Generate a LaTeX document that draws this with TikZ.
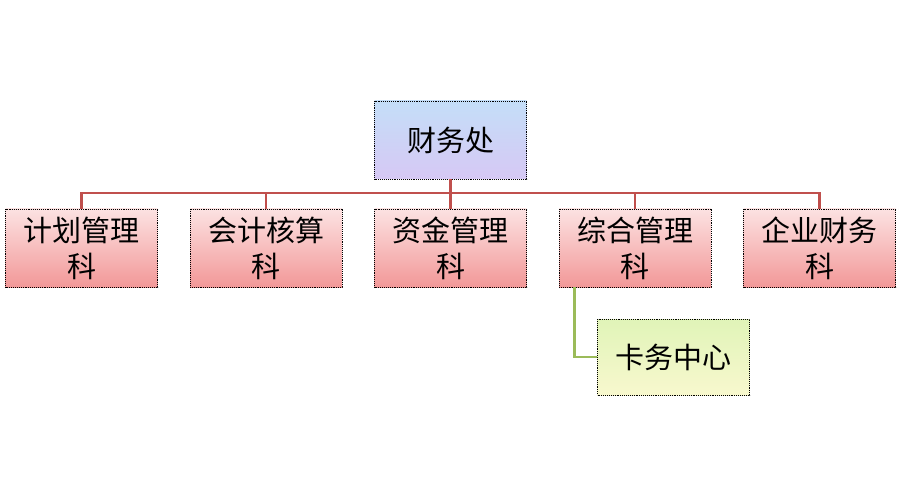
\documentclass[tikz,border=0pt]{standalone}
\usepackage{fontspec}
\newfontfamily\cjk{Noto Sans CJK SC}
\usetikzlibrary{positioning}
\definecolor{busred}{RGB}{192,80,77}
\definecolor{branchgreen}{RGB}{155,187,89}
\tikzstyle{unit} = [draw, densely dotted, line width=0.9pt, rectangle, minimum height=78pt, minimum width=152pt, inner sep=0pt, align=center, font=\cjk\fontsize{29}{36}\selectfont]
\tikzstyle{head} = [unit, top color={rgb,255:red,196;green,222;blue,248}, bottom color={rgb,255:red,214;green,200;blue,244}]
\tikzstyle{dept} = [unit, top color={rgb,255:red,252;green,226;blue,226}, bottom color={rgb,255:red,242;green,152;blue,152}]
\tikzstyle{leaf} = [unit, minimum height=76pt, top color={rgb,255:red,224;green,244;blue,184}, bottom color={rgb,255:red,248;green,248;blue,206}]
\tikzstyle{redline} = [draw=busred, line width=2.6pt]
\tikzstyle{greenline} = [draw=branchgreen, line width=2.6pt]

\begin{document}
\begin{tikzpicture}[x=1pt, y=1pt, node distance=184.5pt]
        \useasboundingbox (0,0) rectangle (902,-497);

        \node [head] (caiwu) at (450.5,-140) {财务处};

        \node [dept, below of=caiwu, node distance=108pt] (zijin) {资金管理\\科};
        \node [dept, left of=zijin] (kuaiji) {会计核算\\科};
        \node [dept, left of=kuaiji] (jihua) {计划管理\\科};
        \node [dept, right of=zijin] (zonghe) {综合管理\\科};
        \node [dept, right of=zonghe] (qiye) {企业财务\\科};

        \node [leaf, below of=zonghe, node distance=109pt, xshift=38.5pt] (kawu) {卡务中心};

        % bus under the head
        \node [coordinate, below of=caiwu, node distance=53pt] (bus) {};
        \draw [redline] (caiwu) -- (bus);
        \foreach \d in {jihua, kuaiji, zijin, zonghe, qiye}
            \draw [redline] (bus) -| (\d);

        \draw [greenline] ([xshift=16pt]zonghe.south west) |- (kawu);
    \end{tikzpicture}
\end{document}
